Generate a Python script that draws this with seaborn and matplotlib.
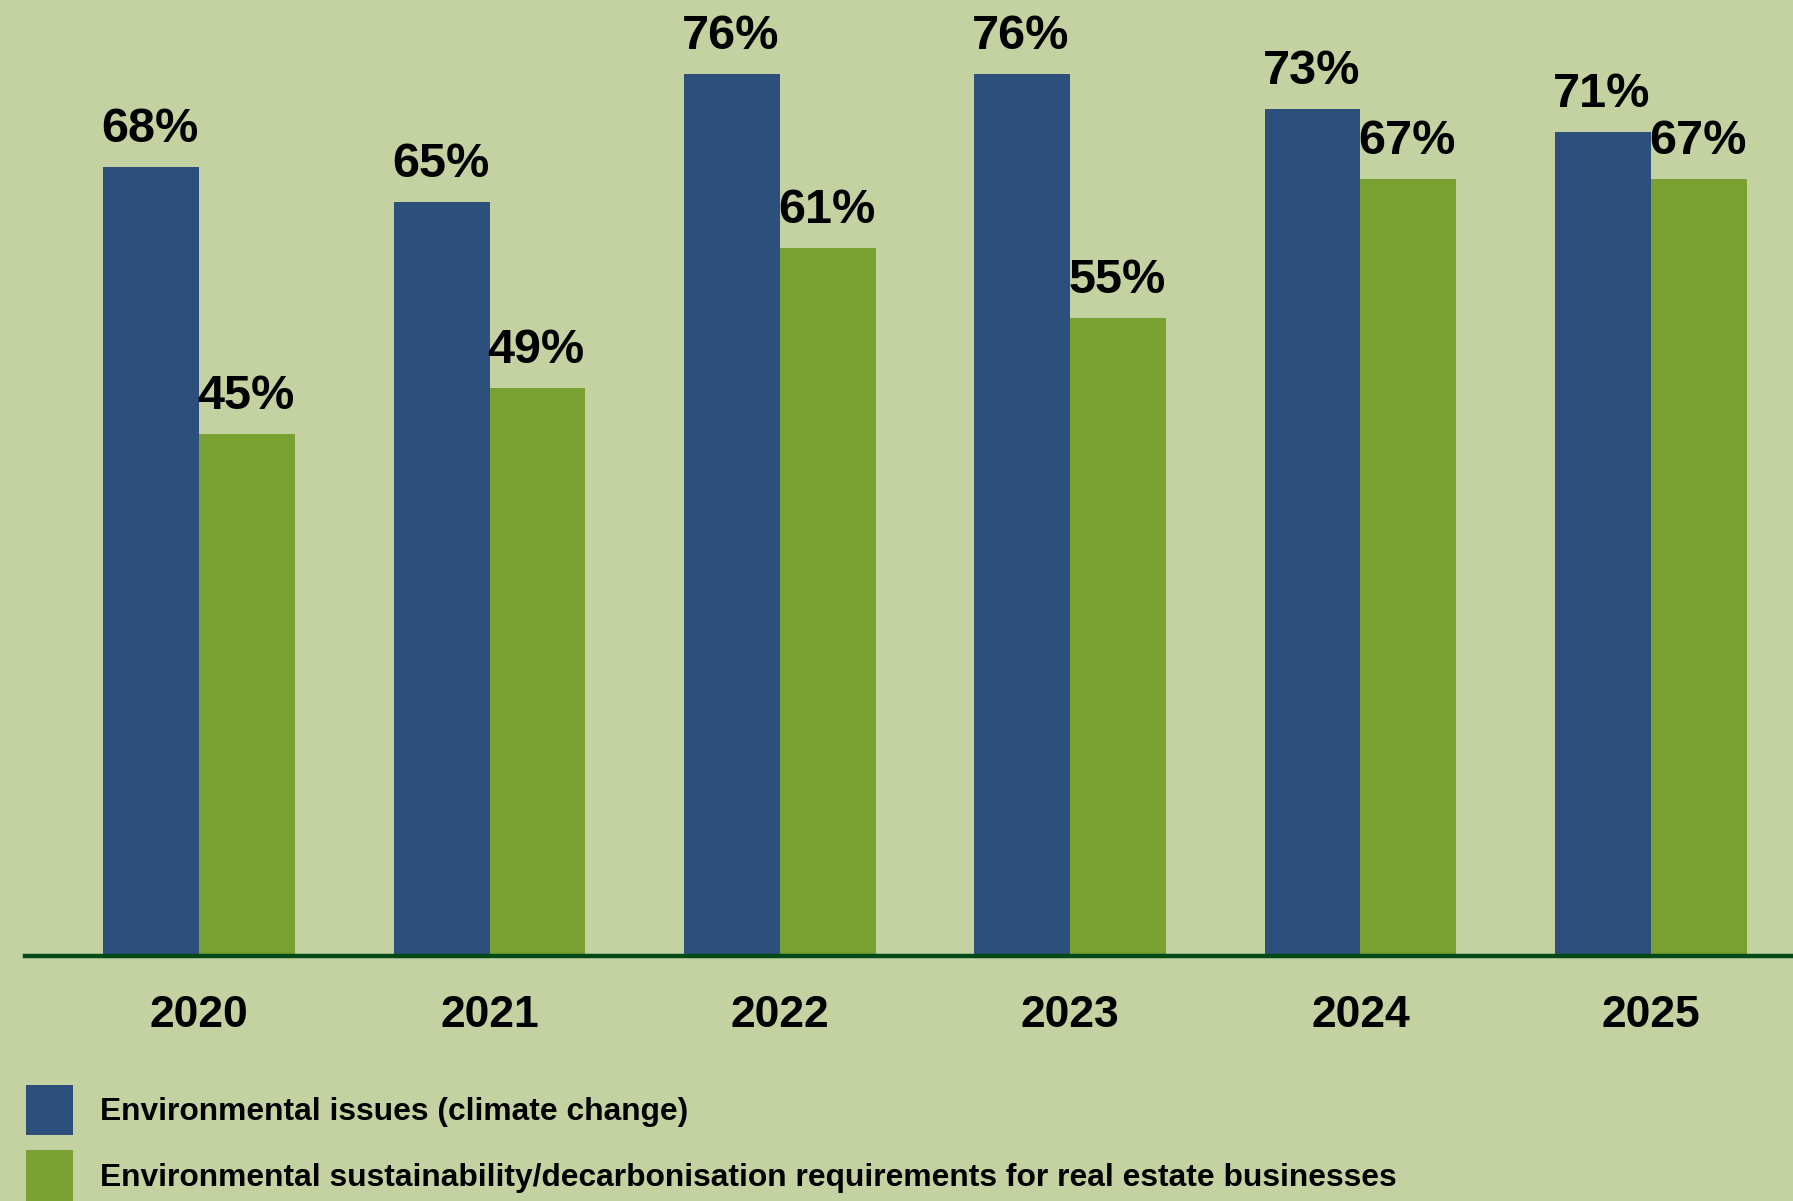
import seaborn as sns
import matplotlib.pyplot as plt
import matplotlib.patches as mpatches
import pandas as pd

# data
years = ["2020", "2021", "2022", "2023", "2024", "2025"]
climate = [68, 65, 76, 76, 73, 71]
decarb = [45, 49, 61, 55, 67, 67]
series_names = ["Environmental issues (climate change)",
                "Environmental sustainability/decarbonisation requirements for real estate businesses"]

blue = "#2d4f7c"
green = "#78a131"
bg = "#c4d2a2"
line_col = "#044a18"

df = pd.DataFrame({
    "year": years * 2,
    "value": climate + decarb,
    "series": [series_names[0]] * len(years) + [series_names[1]] * len(years),
})

sns.set_style("white")
plt.rcParams['font.family'] = ['Liberation Sans', 'DejaVu Sans']

fig = plt.figure(figsize=(17.93, 12.01), dpi=100, facecolor=bg)
ax = fig.add_axes([0.014, 0.204, 0.986, 0.796])
ax.set_facecolor(bg)

sns.barplot(data=df, x="year", y="value", hue="series", palette=[blue, green],
            width=0.66, saturation=1, linewidth=0, ax=ax, legend=False)

ax.set_xlim(-0.6, 5.49)
ax.set_ylim(0, 82.4)

#value labels, left aligned with each bar
for cont in ax.containers:
    for bar in cont:
        h = bar.get_height()
        ax.annotate(f"{h:.0f}%", xy=(bar.get_x(), h), xytext=(-2, 25),
                    textcoords="offset pixels", ha="left", va="baseline",
                    fontsize=35, fontweight="bold", color="black")

for s in ["top", "left", "right"]:
    ax.spines[s].set_visible(False)
ax.spines["bottom"].set_color(line_col)
ax.spines["bottom"].set_linewidth(3.2)

ax.set_xlabel("")
ax.set_ylabel("")
ax.set_yticks([])
ax.tick_params(axis="x", length=0, pad=28, labelsize=32, labelcolor="black")
for t in ax.get_xticklabels():
    t.set_fontweight("bold")

handles = [mpatches.Patch(color=blue, linewidth=0), mpatches.Patch(color=green, linewidth=0)]
leg = fig.legend(handles, series_names, loc="lower left", bbox_to_anchor=(0.0145, 0.0),
                 frameon=False, prop={"weight": "bold", "size": 22.9},
                 handlelength=1.48, handleheight=2.07, handletextpad=0.85,
                 labelspacing=0.47, borderpad=0, borderaxespad=0)
for t in leg.get_texts():
    t.set_color("black")

fig.savefig("out.png", dpi=100, facecolor=bg)
